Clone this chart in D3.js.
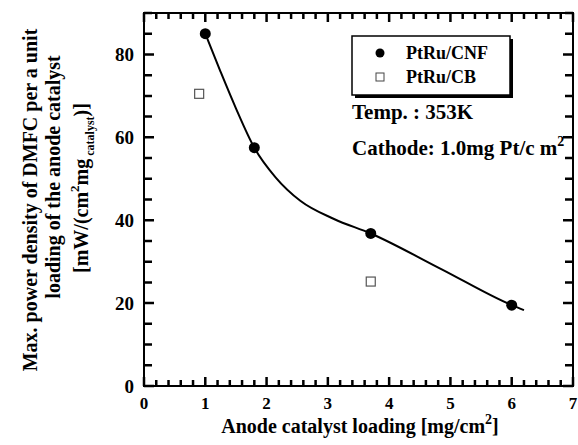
<!DOCTYPE html>
<html>
<head>
<meta charset="utf-8">
<script src="https://cdn.jsdelivr.net/npm/d3@7"></script>
<style>
  body { margin: 0; background: #fff; }
  text { font-family: "Liberation Serif", "Times New Roman", serif; font-weight: bold; fill: #000; }
</style>
</head>
<body>
<div id="chart"></div>
<script>
// measured points
var cnfLoading = [1.0, 1.8, 3.7, 6.0];
var cnfPower = [85, 57.5, 36.8, 19.5];
var cbLoading = [0.9, 3.7];
var cbPower = [70.5, 25.2];

// fitted curve
var fitLoading = [1.0, 1.25, 1.5, 1.8, 2.15, 2.55, 3.1, 3.7, 4.85, 6.0, 6.2];
var fitPower = [85, 75.8, 67, 57.5, 50.3, 44.7, 40.3, 36.8, 28.2, 19.5, 18.3];

var xTicks = [0, 1, 2, 3, 4, 5, 6, 7];
var yTicks = [0, 20, 40, 60, 80];

var svgWidth = 578;
var svgHeight = 445;
var margin = { top: 13, right: 5, bottom: 59, left: 144 };
var width = svgWidth - margin.left - margin.right;
var height = svgHeight - margin.top - margin.bottom;

var svg = d3.select("#chart")
  .append("svg")
  .attr("width", svgWidth)
  .attr("height", svgHeight);

var chartGroup = svg.append("g")
  .attr("transform", `translate(${margin.left}, ${margin.top})`);

var x = d3.scaleLinear().domain([0, 7]).range([0, width]);
var y = d3.scaleLinear().domain([0, 90]).range([height, 0]);

// minor ticks every 0.2 on x, every 5 on y
var xMinor = d3.range(0, 36).map(d => d / 5);
var yMinor = d3.range(0, 19).map(d => d * 5);

function xLen(d) { return xTicks.indexOf(d) >= 0 ? 9 : 6; }
function yLen(d) { return d % 20 === 0 ? 10 : 8; }

// frame
chartGroup.append("rect")
  .attr("width", width)
  .attr("height", height)
  .attr("fill", "none")
  .attr("stroke", "#000")
  .attr("stroke-width", 2);

// inward ticks on all four sides (major ones longer)
var tickPaths = [];
xMinor.forEach(function(d) {
  tickPaths.push(`M${x(d)},${height}V${height - xLen(d)}`);
  tickPaths.push(`M${x(d)},0V${xLen(d)}`);
});
yMinor.forEach(function(d) {
  tickPaths.push(`M0,${y(d)}H${yLen(d)}`);
  tickPaths.push(`M${width},${y(d)}H${width - yLen(d)}`);
});

chartGroup.append("path")
  .attr("d", tickPaths.join(""))
  .attr("fill", "none")
  .attr("stroke", "#000")
  .attr("stroke-width", 2.5);

// tick labels
chartGroup.selectAll(".xlab")
  .data(xTicks)
  .enter()
  .append("text")
  .attr("x", d => x(d))
  .attr("y", height + 23)
  .attr("text-anchor", "middle")
  .style("font-size", "17px")
  .text(d => d);

chartGroup.selectAll(".ylab")
  .data(yTicks)
  .enter()
  .append("text")
  .attr("x", -10)
  .attr("y", d => y(d))
  .attr("dy", "0.35em")
  .attr("text-anchor", "end")
  .style("font-size", "19px")
  .text(d => d);

// fitted curve
var line = d3.line()
  .x(d => x(d[0]))
  .y(d => y(d[1]))
  .curve(d3.curveMonotoneX);

chartGroup.append("path")
  .datum(fitLoading.map((d, i) => [d, fitPower[i]]))
  .attr("d", line)
  .attr("fill", "none")
  .attr("stroke", "#000")
  .attr("stroke-width", 2);

// PtRu/CNF points
chartGroup.selectAll(".cnf")
  .data(cnfLoading.map((d, i) => [d, cnfPower[i]]))
  .enter()
  .append("circle")
  .attr("cx", d => x(d[0]))
  .attr("cy", d => y(d[1]))
  .attr("r", 5.5)
  .attr("fill", "#000");

// PtRu/CB points
chartGroup.selectAll(".cb")
  .data(cbLoading.map((d, i) => [d, cbPower[i]]))
  .enter()
  .append("rect")
  .attr("x", d => x(d[0]) - 4.5)
  .attr("y", d => y(d[1]) - 4.5)
  .attr("width", 9)
  .attr("height", 9)
  .attr("fill", "#fff")
  .attr("stroke", "#555")
  .attr("stroke-width", 1.2);

// legend box with drop shadow
var legend = svg.append("g").attr("transform", "translate(352, 36)");
legend.append("rect")
  .attr("x", 3).attr("y", 3)
  .attr("width", 158).attr("height", 59)
  .attr("fill", "#000");
legend.append("rect")
  .attr("width", 158).attr("height", 59)
  .attr("fill", "#fff")
  .attr("stroke", "#000")
  .attr("stroke-width", 1.5);
legend.append("circle").attr("cx", 28).attr("cy", 17).attr("r", 4.5).attr("fill", "#000");
legend.append("rect")
  .attr("x", 24).attr("y", 37).attr("width", 8).attr("height", 8)
  .attr("fill", "#fff").attr("stroke", "#444").attr("stroke-width", 1);
legend.append("text").attr("x", 54).attr("y", 23).style("font-size", "18px").text("PtRu/CNF");
legend.append("text").attr("x", 54).attr("y", 47).style("font-size", "18px").text("PtRu/CB");

svg.append("text")
  .attr("x", 352).attr("y", 119)
  .style("font-size", "21px")
  .text("Temp. : 353K");

var cath = svg.append("text")
  .attr("x", 352).attr("y", 155)
  .style("font-size", "21px")
  .text("Cathode: 1.0mg Pt/c m");
cath.append("tspan").attr("dy", -9).style("font-size", "14px").text("2");

// x axis title
var xt = svg.append("text")
  .attr("x", 360)
  .attr("y", 433)
  .attr("text-anchor", "middle")
  .style("font-size", "20px")
  .text("Anode catalyst loading [mg/cm");
xt.append("tspan").attr("dy", -9).style("font-size", "14px").text("2");
xt.append("tspan").attr("dy", 9).text("]");

// y axis title, three rotated lines
var yTitle = svg.append("g").attr("transform", "translate(0, 200) rotate(-90)");
yTitle.append("text")
  .attr("x", 0).attr("y", 37)
  .attr("text-anchor", "middle")
  .style("font-size", "20px")
  .text("Max. power density of DMFC per a unit");
yTitle.append("text")
  .attr("x", 23).attr("y", 60)
  .attr("text-anchor", "middle")
  .style("font-size", "20px")
  .text("loading of the anode catalyst");
var l3 = yTitle.append("text")
  .attr("x", 12).attr("y", 88)
  .attr("text-anchor", "middle")
  .style("font-size", "20px")
  .text("[mW/(cm");
l3.append("tspan").attr("dy", -9).style("font-size", "13px").text("2");
l3.append("tspan").attr("dy", 9).text("mg");
l3.append("tspan").attr("dy", 6).style("font-size", "12px").text(" catalyst");
l3.append("tspan").attr("dy", -6).text(")]");
</script>
</body>
</html>
